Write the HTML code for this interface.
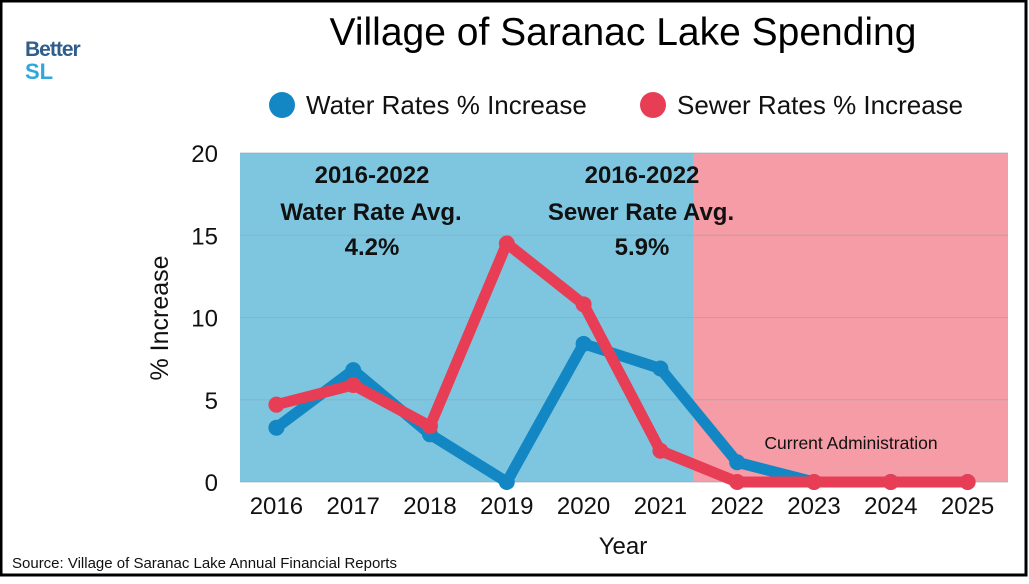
<!DOCTYPE html>
<html><head><meta charset="utf-8"><style>
html,body{margin:0;padding:0;background:#fff;}
body{width:1029px;height:579px;overflow:hidden;font-family:"Liberation Sans","DejaVu Sans",sans-serif;}
</style></head><body>
<svg id="chart" width="1029" height="579" xmlns="http://www.w3.org/2000/svg">
<rect x="1" y="1" width="1025" height="574" fill="#fff" stroke="#000" stroke-width="3"/>
<text x="25" y="56" font-size="21" font-weight="bold" fill="#2f5d8c" letter-spacing="-1">Better</text>
<text x="25" y="79" font-size="22" font-weight="bold" fill="#2ea7dc">SL</text>
<text x="623" y="45" font-size="39" text-anchor="middle" fill="#000">Village of Saranac Lake Spending</text>
<circle cx="282" cy="105" r="13" fill="#1387c3"/>
<text x="306" y="114" font-size="26" fill="#111">Water Rates % Increase</text>
<circle cx="653" cy="105" r="13" fill="#e83e55"/>
<text x="677" y="114" font-size="26" fill="#111">Sewer Rates % Increase</text>
<g id="plot"></g>
<text x="168" y="318" font-size="25" text-anchor="middle" fill="#111" transform="rotate(-90 168 318)">% Increase</text>
<text x="623" y="554" font-size="24" text-anchor="middle" fill="#111">Year</text>
<text x="12" y="568" font-size="15" fill="#111">Source: Village of Saranac Lake Annual Financial Reports</text>
</svg>
<script>
const years=["2016","2017","2018","2019","2020","2021","2022","2023","2024","2025"];
const water=[3.3,6.8,2.9,0,8.4,6.9,1.2,0,0,0];
const sewer=[4.7,5.9,3.4,14.5,10.8,1.9,0,0,0,0];
const yTicks=[0,5,10,15,20];
const NS="http://www.w3.org/2000/svg";
const x0=240,x1=1008,y0=482,y1=153,yMax=20;
const bw=(x1-x0)/years.length;
function xs(i){return x0+bw*(i+0.5)-2;}
function ys(v){return y0-(v/yMax)*(y0-y1);}
const g=document.getElementById('plot');
function mk(t,a){const e=document.createElementNS(NS,t);for(const k in a)e.setAttribute(k,a[k]);g.appendChild(e);return e;}
const split=693;
let r=mk('rect',{x:x0,y:y1,width:split-x0,height:y0-y1,fill:'#7ec6e0'});


r=mk('rect',{x:split,y:y1,width:x1-split,height:y0-y1,fill:'#f59ca6'});


yTicks.forEach(t=>{
 const l=mk('line',{x1:x0,x2:x1,y1:ys(t),y2:ys(t),stroke:'#8aa6b8','stroke-width':1,'stroke-opacity':0.6});
 
 
 const tx=mk('text',{x:218,y:ys(t)+9,'font-size':24,'text-anchor':'end',fill:'#111'});
 tx.textContent=t;
 
 
});
years.forEach((y,i)=>{
 const tx=mk('text',{x:xs(i),y:514,'font-size':24,'text-anchor':'middle',fill:'#111'});
 tx.textContent=y;
 
 
});
function series(vals,col,name){
 const p=mk('polyline',{points:vals.map((v,i)=>xs(i)+','+ys(v)).join(' '),fill:'none',stroke:col,'stroke-width':11,'stroke-linejoin':'round','stroke-linecap':'round'});
 
 
 vals.forEach((v,i)=>{
  const c=mk('circle',{cx:xs(i),cy:ys(v),r:8,fill:col});
  
  
 });
}
series(water,'#1387c3','water');
series(sewer,'#e83e55','sewer');
function label(x,y,s,size,bold,name){
 const t=mk('text',{x:x,y:y,'font-size':size,'text-anchor':'middle',fill:'#111','font-weight':bold?'bold':'normal'});
 t.textContent=s;
 
 
}
label(372,183,'2016-2022',24,true,'water-avg-years');
label(371,220,'Water Rate Avg.',24,true,'water-avg-title');
label(372,255,'4.2%',24,true,'water-avg-value');
label(642,183,'2016-2022',24,true,'sewer-avg-years');
label(641,220,'Sewer Rate Avg.',24,true,'sewer-avg-title');
label(642,255,'5.9%',24,true,'sewer-avg-value');
label(851,449,'Current Administration',17.5,false,'current-administration-label');
</script>
</body></html>
